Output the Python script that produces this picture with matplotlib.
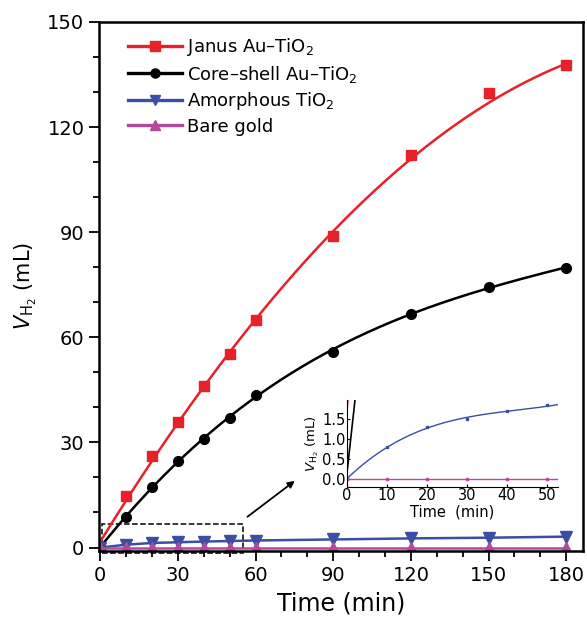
import numpy as np
import matplotlib.pyplot as plt
from matplotlib.patches import Rectangle
from matplotlib.ticker import MultipleLocator

plt.rcParams['font.family'] = ['DejaVu Sans']
plt.rcParams['mathtext.fontset'] = 'dejavusans'

time = [0, 10, 20, 30, 40, 50, 60, 90, 120, 150, 180]
janus = [0, 14.8, 26.0, 35.7, 46.0, 55.2, 64.8, 89.0, 112.0, 129.8, 137.8]
core_shell = [0, 8.8, 17.4, 24.8, 31.0, 37.0, 43.6, 55.9, 66.7, 74.4, 79.8]
amorphous = [0, 0.8, 1.3, 1.5, 1.7, 1.85, 2.0, 2.3, 2.6, 2.8, 3.1]
bare_gold = [0, 0, 0, 0, 0, 0, 0, 0, 0, 0, 0]
labels = ['Janus Au\u2013TiO$_2$', 'Core\u2013shell Au\u2013TiO$_2$', 'Amorphous TiO$_2$', 'Bare gold']

RED, BLACK, BLUE, PINK = '#e8202a', '#000000', '#3a4ea3', '#b04a9c'


def smooth(x, y, xs, deg=3):
    # least-squares smoothing curve, like the fitted lines of the original
    return np.polyval(np.polyfit(x, y, deg), xs)


t = np.array(time, dtype=float)
tt = np.linspace(0, 180, 400)
# janus: fit weighted so that the curve hugs the measured points
w = np.ones_like(t); w[-2] = 0.3
fit_janus = np.polyval(np.polyfit(t, janus, 3, w=w), tt)
fit_core = smooth(t, core_shell, tt, 3)

fig = plt.figure(figsize=(5.87, 6.21), dpi=100)
ax = fig.add_axes([0.1687, 0.1127, 0.8245, 0.852])

lw = 1.8
ax.plot(tt, fit_janus, color=RED, lw=lw)
ax.plot(t, janus, 's', color=RED, ms=6.5)
ax.plot(tt, fit_core, color=BLACK, lw=lw)
ax.plot(t, core_shell, 'o', color=BLACK, ms=7)
ax.plot(t, amorphous, '-v', color=BLUE, lw=lw, ms=8)
ax.plot(t, bare_gold, '-^', color=PINK, lw=lw, ms=8)

# legend handles
handles = [
    ax.plot([], [], '-s', color=RED, lw=2.4, ms=6.5)[0],
    ax.plot([], [], '-o', color=BLACK, lw=2.4, ms=6.5)[0],
    ax.plot([], [], '-v', color=BLUE, lw=2.4, ms=7.5)[0],
    ax.plot([], [], '-^', color=PINK, lw=2.4, ms=7.5)[0],
]
ax.legend(handles, labels, loc='upper left', frameon=False, fontsize=13,
          handlelength=3.0, handletextpad=0.25, labelspacing=0.3,
          borderaxespad=0.4, bbox_to_anchor=(0.03, 1.0))

ax.set_xlim(-0.5, 186.5)
ax.set_ylim(-1, 150)
ax.xaxis.set_major_locator(MultipleLocator(30))
ax.xaxis.set_minor_locator(MultipleLocator(10))
ax.yaxis.set_major_locator(MultipleLocator(30))
ax.yaxis.set_minor_locator(MultipleLocator(10))
ax.tick_params(which='major', direction='out', length=7, width=1.3, labelsize=14)
ax.tick_params(which='minor', direction='out', length=4, width=1.3)
for s in ax.spines.values():
    s.set_linewidth(1.8)
ax.set_xlabel('Time (min)', fontsize=17, labelpad=5)
ax.set_ylabel(r'$V_{\mathrm{H_2}}$ (mL)', fontsize=15, labelpad=6)

# dashed zoom box and arrow
ax.add_patch(Rectangle((0.5, -1.5), 54.5, 8.2, fill=False, ls='--', lw=1.1,
                       ec='black', clip_on=False))
ax.annotate('', xy=(76, 19.5), xytext=(56, 8.3),
            arrowprops=dict(arrowstyle='-|>', color='black', lw=1.3))

# inset
ins = fig.add_axes([0.591, 0.2158, 0.3595, 0.14])
ti = np.linspace(0, 52.8, 200)
ins.plot(tt, fit_core, color=BLACK, lw=1.2)
ins.plot(tt, fit_janus, color=RED, lw=1.2)
ins.plot(ti, smooth(t[:7], amorphous[:7], ti, 3), color=BLUE, lw=1.0)
ins.plot(t, amorphous, 's', color=BLUE, ms=2)
ins.plot(t, bare_gold, '-s', color=PINK, lw=1.0, ms=2)
ins.set_xlim(0, 52.8)
ins.set_ylim(-0.2, 1.98)
ins.set_xticks([0, 10, 20, 30, 40, 50])
ins.set_yticks([0.0, 0.5, 1.0, 1.5])
ins.set_yticklabels(['0.0', '0.5', '1.0', '1.5'])
ins.patch.set_alpha(0)
ins.spines['top'].set_visible(False)
ins.spines['right'].set_visible(False)
ins.tick_params(direction='in', length=2, labelsize=10.5, pad=1)
ins.set_xlabel('Time  (min)', fontsize=10.5, labelpad=1)
ins.set_ylabel(r'$V_{\mathrm{H_2}}$ (mL)', fontsize=9.5, labelpad=1)

fig.savefig('out.png', dpi=100)
